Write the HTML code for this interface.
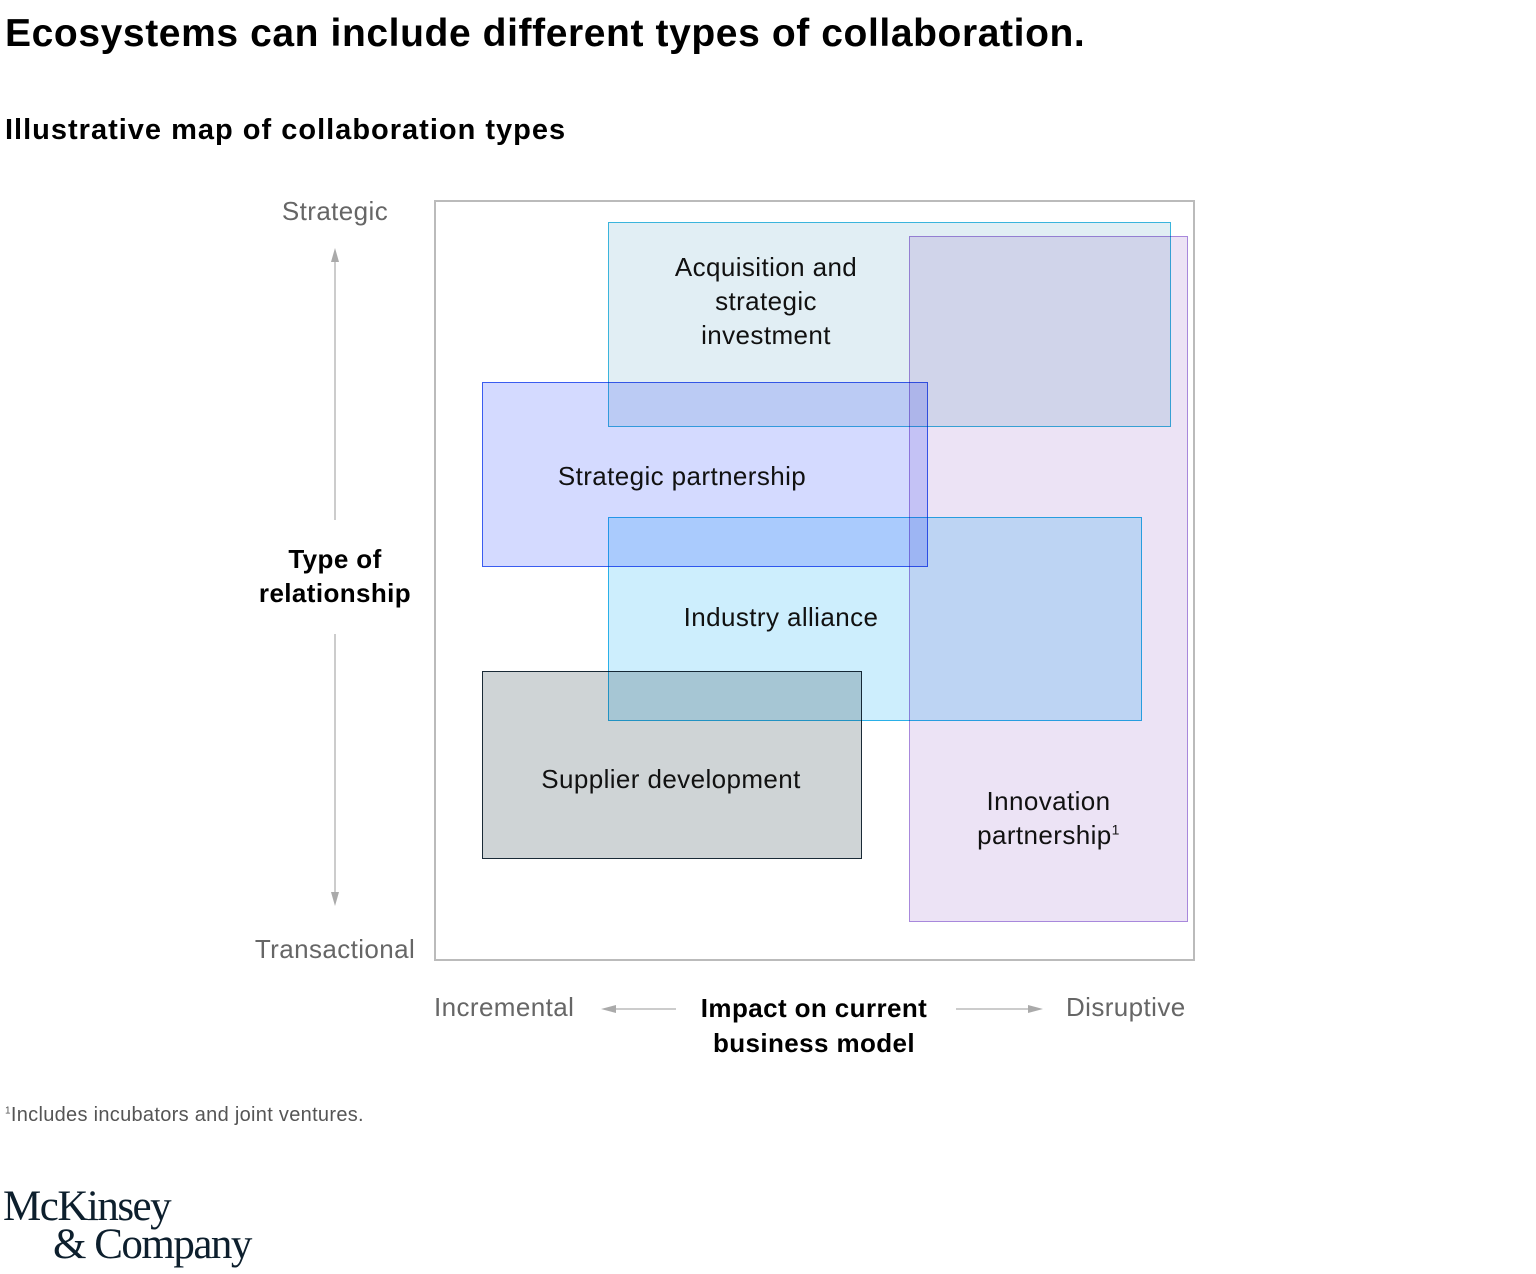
<!DOCTYPE html>
<html><head><meta charset="utf-8"><style>
body{margin:0;width:1536px;height:1274px;background:#fff;position:relative;font-family:"Liberation Sans",sans-serif;overflow:hidden;color:#000}
.a{position:absolute}
.box{position:absolute;mix-blend-mode:multiply;box-sizing:border-box}
.lbl{position:absolute;font-size:26px;color:#111;text-align:center;line-height:34px;letter-spacing:0.4px}
.g{color:#666;font-size:26px;letter-spacing:0.4px}
</style></head><body>
<div class="a" style="left:5px;top:12px;font-size:39px;font-weight:bold;letter-spacing:0.6px">Ecosystems can include different types of collaboration.</div>
<div class="a" style="left:5px;top:114px;font-size:29px;font-weight:bold;letter-spacing:1px">Illustrative map of collaboration types</div>

<div class="a" style="left:434px;top:200px;width:761px;height:761px;border:2px solid #bbb;box-sizing:border-box"></div>

<div class="box" style="left:909px;top:236px;width:279px;height:686px;background:#ece3f5;border:1px solid #a888dc"></div>
<div class="box" style="left:608px;top:222px;width:563px;height:205px;background:#e1eef4;border:1px solid #3ab4dc"></div>
<div class="box" style="left:482px;top:382px;width:446px;height:185px;background:#d4daff;border:1px solid #3a5cf0"></div>
<div class="box" style="left:608px;top:517px;width:534px;height:204px;background:#cdeefd;border:1px solid #2ab0e8"></div>
<div class="box" style="left:482px;top:671px;width:380px;height:188px;background:#cfd4d6;border:1px solid #1a2a36"></div>

<div class="lbl" style="left:608px;top:250px;width:316px">Acquisition and<br>strategic<br>investment</div>
<div class="lbl" style="left:482px;top:459px;width:400px">Strategic partnership</div>
<div class="lbl" style="left:630px;top:600px;width:302px">Industry alliance</div>
<div class="lbl" style="left:482px;top:762px;width:378px">Supplier development</div>
<div class="lbl" style="left:909px;top:784px;width:279px">Innovation<br>partnership<sup style="font-size:14px;line-height:0">1</sup></div>

<div class="a g" style="left:230px;top:196px;width:210px;text-align:center">Strategic</div>
<div class="a g" style="left:230px;top:934px;width:210px;text-align:center">Transactional</div>
<div class="a" style="left:230px;top:542px;width:210px;text-align:center;font-size:26px;font-weight:bold;line-height:34px;letter-spacing:0.4px">Type of<br>relationship</div>
<svg class="a" style="left:0;top:0" width="1536" height="1274">
<g stroke="#bbb" stroke-width="1.5" fill="#aaa">
<line x1="335" y1="258" x2="335" y2="520"/><polygon points="331,262 339,262 335,248" stroke="none"/>
<line x1="335" y1="634" x2="335" y2="896"/><polygon points="331,892 339,892 335,906" stroke="none"/>
<line x1="612" y1="1009" x2="676" y2="1009"/><polygon points="616,1005 616,1013 601,1009" stroke="none"/>
<line x1="956" y1="1009" x2="1030" y2="1009"/><polygon points="1028,1005 1028,1013 1043,1009" stroke="none"/>
</g></svg>
<div class="a g" style="left:434px;top:992px">Incremental</div>
<div class="a g" style="left:1066px;top:992px">Disruptive</div>
<div class="a" style="left:675px;top:991px;width:278px;text-align:center;font-size:26px;font-weight:bold;line-height:35px;letter-spacing:0.4px">Impact on current<br>business model</div>
<div class="a" style="left:5px;top:1104px;font-size:20px;color:#555;letter-spacing:0.3px"><sup style="font-size:10px">1</sup>Includes incubators and joint ventures.</div>
<div class="a" style="left:3px;top:1188px;font-family:'Liberation Serif',serif;font-size:43px;color:#0d1f2d;line-height:38px;letter-spacing:-1.5px">McKinsey<br><span style="padding-left:50px">&amp; Company</span></div>
</body></html>
